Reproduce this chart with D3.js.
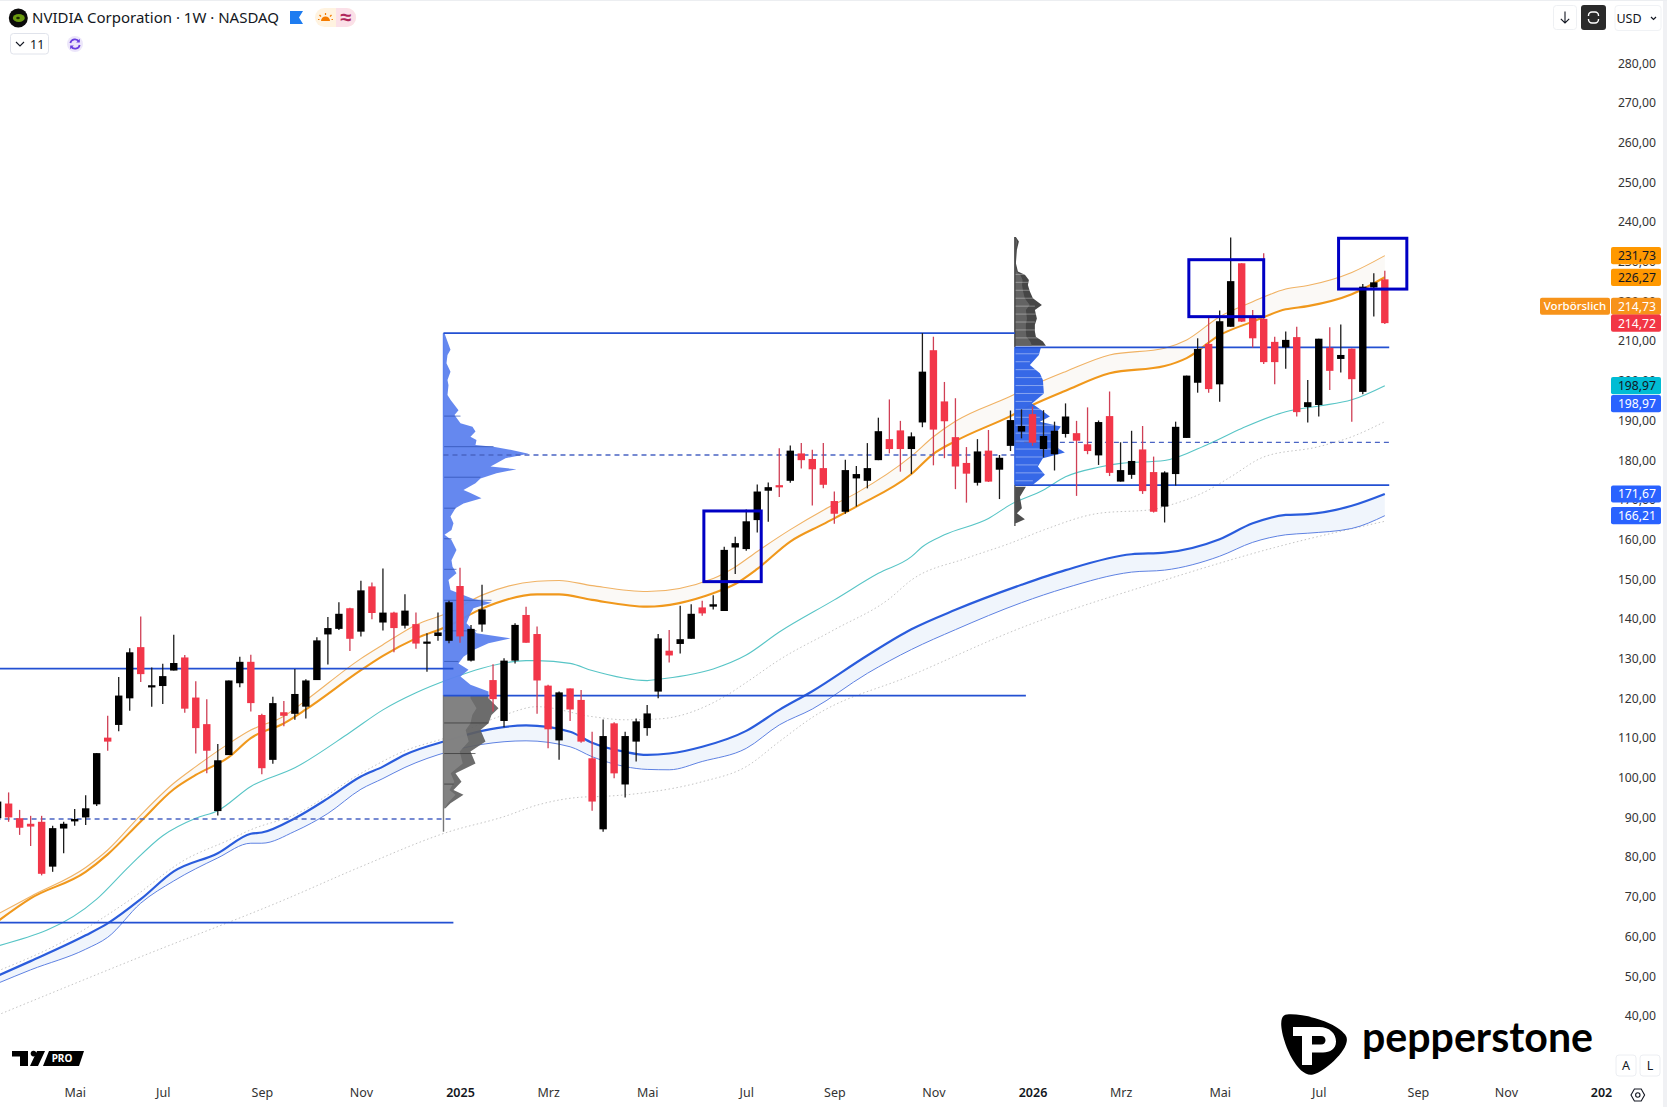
<!DOCTYPE html>
<html>
<head>
<meta charset="utf-8">
<title>NVIDIA Corporation 1W</title>
<script src="https://cdn.jsdelivr.net/npm/d3@7"></script>
<style>
    body { margin: 0; background: #fff; }
    svg { display: block; }
    text { font-family: "Noto Sans", sans-serif; }
</style>
</head>
<body>
<div id="graph"></div>
<script>
"use strict";

// weekly candles, first entry is the week of 2024-03-18 (week number -1)
const opens = [90,
    93.7, 90, 88.6, 89.1, 77.8, 87.4, 89.2, 90.2, 93.5, 110.3,
    113.5, 120.2, 133.1, 123, 123.3, 127.2, 130.5, 120.4, 113.7, 91.8,
    105.9, 124, 129.4, 116, 104.7, 116.7, 116.3, 118.1, 124.8, 136.3,
    137.7, 142.9, 137, 148.4, 139.3, 141.8, 138.5, 138.9, 134, 135.9,
    134.7, 148.5, 129.7, 138.8, 124.8, 114.5, 129.7, 141.2, 136.4, 123.4,
    109.6, 122.7, 119.8, 105.1, 87.2, 113.9, 98.5, 109.3, 112.7, 121.9,
    132.2, 133.9, 135.2, 143.1, 143.3, 142.2, 158.2, 157.8, 165.1, 172.5,
    173.9, 175, 181.9, 180.5, 178.2, 169.9, 167.2, 175.6, 175, 180.2,
    185.5, 187.7, 183, 189.7, 207.9, 195, 186, 179.5, 174.5, 182.6,
    177.8, 183.8, 187.4, 191.8, 183, 181.7, 186.8, 187, 184.2, 181.4,
    191.3, 174.8, 176.5, 182.9, 177.2, 168.5, 176.7, 185.8, 199.7, 209.5,
    199.3, 213.8, 229.8, 216.4, 215.8, 210, 208.6, 211.2, 193.6, 194.1,
    208.5, 205.7, 208.3, 197.4, 223.7, 225.75];
const closes = [94.2,
    90.2, 87.6, 87.9, 76, 87.5, 88.6, 89.8, 92.5, 106.4, 109.3,
    120.9, 131.8, 126.3, 123.5, 125.8, 129.1, 117.6, 112.7, 107, 104.6,
    124.7, 129.4, 119, 102.6, 119, 115.8, 121.3, 124.7, 134.8, 137.9,
    141.5, 135.2, 147.4, 141.7, 141.8, 137.9, 142.3, 134, 134.5, 136.8,
    144.4, 135.8, 137.7, 142.6, 120, 129.7, 138.7, 134.2, 124.7, 112.4,
    121.7, 117.4, 109.3, 94.2, 110.7, 101.3, 110.7, 114.4, 116.4, 135.3,
    131, 135.1, 141.5, 141.6, 143.9, 157.6, 159.3, 164.8, 172.3, 173.4,
    173.4, 182.6, 180.2, 177.9, 174, 166.7, 177.7, 176.7, 178.2, 187.5,
    183, 183, 186.2, 202.5, 187.9, 190, 178.6, 176.8, 182.4, 174.8,
    180.8, 190.3, 188.8, 184.6, 186.3, 187.6, 191.2, 185.1, 182.5, 189.8,
    177, 177.7, 180, 172.4, 167.2, 177.1, 188.6, 201.5, 208.2, 198.1,
    215.2, 225.3, 215.1, 210.9, 204.9, 204.9, 210.5, 192.3, 194.8, 210.8,
    202.7, 206.7, 200.6, 223.9, 225, 214.72];
const highs = [95.5,
    96.5, 92.1, 90.6, 90.6, 88.1, 89.1, 92.3, 95.8, 106.4, 115.8,
    125.6, 132.8, 140.8, 128, 128.9, 136.2, 131.1, 124.5, 120, 108.7,
    124.7, 130.7, 131.2, 116.3, 120.6, 119.5, 127.6, 125, 135.6, 140.7,
    144.4, 143, 149.8, 149.4, 152.9, 142, 146.4, 141.8, 136.6, 141.8,
    144.8, 153.1, 138.7, 148.8, 128.8, 130.3, 139.1, 143.3, 138.3, 123.6,
    121.9, 122.7, 122.3, 111.8, 114.9, 114.2, 111.8, 115.1, 118.5, 136.4,
    137.4, 143.5, 143.9, 144.8, 146.2, 158.4, 160.9, 167.8, 174.1, 174.6,
    183.2, 183.9, 184.5, 182.8, 184.5, 172.3, 180.3, 178.7, 184.5, 190.9,
    195.5, 190.1, 187.2, 212.2, 211.3, 199.9, 195.8, 183.5, 185.5, 187.8,
    181.5, 192.7, 193, 193.7, 192.8, 189.9, 194.5, 190.1, 193.5, 190.2,
    197.5, 184.7, 187.6, 188.8, 181.1, 177.4, 189.9, 201.5, 210.9, 216.4,
    217.9, 236.3, 229.8, 218, 232.3, 211.3, 212.6, 213.8, 200.4, 210.8,
    213.7, 214.4, 208.3, 224.6, 227.3, 227.9];
const lows = [89.5,
    89.1, 85.8, 83, 75.6, 76.5, 81.2, 88.1, 88.3, 93.1, 107,
    111.9, 117.1, 124.3, 118.1, 118.8, 127.2, 116.6, 106.3, 101.3, 90.7,
    105.9, 123, 116.9, 101.1, 103.7, 113.2, 114.8, 115.1, 124.8, 128.7,
    137.4, 132.1, 135.8, 140.1, 137.3, 131.8, 137.8, 132.7, 126.9, 134.7,
    134.1, 134.2, 129.5, 137, 116.9, 112.9, 129, 134.2, 116.3, 107.6,
    104.7, 114.5, 109, 91.9, 86.6, 100.1, 95.2, 104.3, 110.8, 120.2,
    129.2, 131.5, 135.2, 141, 142.6, 142.2, 151.5, 157.4, 162, 164.7,
    170.9, 174.5, 178.1, 168.8, 173.1, 164.2, 166.7, 168.5, 173.1, 180.2,
    181.9, 177.3, 176.7, 188.5, 178.9, 180.7, 172.9, 169.5, 173.8, 174.7,
    170.4, 182.5, 185.7, 183.8, 180.9, 177.6, 185.9, 171.2, 181.7, 179,
    176.2, 174.8, 175.5, 171.7, 167, 164.5, 173.8, 185.8, 197.2, 197.2,
    194.9, 213.8, 215, 208.6, 204.4, 199.3, 203.2, 191.2, 189.7, 191.2,
    197.9, 202.3, 189.9, 196.8, 216.4, 214.5];

const orangeWeeks = [-1, 2, 7, 9, 12, 15, 17, 20, 22, 25, 27, 32, 34, 37, 40, 43, 48, 50, 53, 58, 64, 66, 68, 71, 74, 77, 82, 84, 86, 91, 93, 96, 100, 105, 107, 110, 113, 116, 118, 122, 125];
const orangeSlow = [64, 69.8, 76.5, 80.9, 89.2, 97.3, 100.9, 105.4, 110.2, 113.9, 117.4, 127.3, 130.9, 135.3, 138.5, 142.8, 146.4, 146.4, 145, 143.3, 146.7, 149, 152.8, 159.7, 164.1, 168.5, 176.7, 181.8, 185, 191.3, 194.1, 197.7, 202.1, 203.9, 205.9, 211.7, 215.1, 218.2, 219, 222, 226.27];
const orangeFast = [65.8, 70.3, 77.6, 82, 90.8, 98.8, 103, 108.8, 112.2, 115.7, 119.7, 130.2, 133.7, 138.7, 141.8, 146.2, 149.7, 149.9, 148.6, 147.1, 150.4, 153.3, 157.2, 162.7, 167.6, 171.9, 181.2, 186.1, 190, 196.3, 199, 202.5, 206.7, 208.4, 210.5, 216.35, 220.1, 223.3, 224.2, 227.5, 231.73];

const tealWeeks = [-1, 8, 11, 14, 17, 19, 22, 26, 31, 34, 37, 40, 43, 47, 48, 51, 53, 58, 59, 64, 67, 70, 75, 79, 82, 83, 85, 89, 91, 94, 96, 99, 101, 105, 109, 112, 116, 119, 122, 125];
const tealLine = [57.8, 69.6, 78, 85.6, 90, 91.9, 98, 102.7, 111.6, 117.3, 121.6, 125, 127.8, 129.7, 129.7, 129, 127.2, 124.67, 125, 127.6, 131.1, 136.9, 145, 151.7, 155.9, 158.4, 161.4, 165.5, 169, 172.7, 176, 178.4, 179.4, 180.1, 184.3, 188.2, 192.4, 193.85, 195.4, 198.97];

const blueWeeks = [-1, 2, 7, 9, 12, 15, 19, 22, 23, 26, 29, 32, 34, 36, 40, 43, 47, 51, 53, 56, 58, 60, 63, 67, 70, 73, 78, 82, 86, 92, 96, 102, 105, 110, 113, 116, 118, 122, 125];
const blueFast = [50.3, 54, 60.5, 63.5, 69.6, 76.6, 81.2, 86.1, 86.4, 90, 95, 100.5, 103, 106, 109.7, 112, 113.4, 111.8, 109, 106.7, 105.95, 106.3, 108, 112, 117.3, 122, 131, 137.6, 142.5, 148.8, 152.5, 156.5, 156.9, 160.3, 164.3, 166.4, 166.6, 168.7, 171.67];
const blueSlow = [48.4, 51.8, 57, 60, 68.6, 74.2, 80, 83.7, 83.7, 86.7, 91.2, 97.3, 100, 102.8, 106.8, 108.6, 109.5, 108, 105.5, 103, 102.3, 102.2, 104.3, 107.6, 113.5, 117.5, 126.5, 132.5, 137.5, 144.3, 148, 152, 152.5, 156, 159.5, 161.4, 161.8, 163, 166.21];

const dotUpperWeeks = [-1, 5, 11, 16, 20, 22, 26, 32, 36, 40, 45, 48, 53, 56, 59, 65, 67, 70, 75, 80, 82, 87, 91, 94, 99, 104, 105, 109, 111, 114, 119, 122, 125];
const dotUpper = [51.5, 59, 69.4, 79.5, 84.5, 87.1, 90.9, 101.3, 107, 110.5, 116, 118.1, 115.6, 114.8, 115, 120.6, 124.2, 129.9, 137.5, 145.3, 150, 155.5, 159.3, 162.6, 166.8, 167.8, 168.5, 172.7, 176, 181, 183.6, 186.1, 189.9];
const dotLowerWeeks = [-1, 12, 25, 32, 40, 45, 48, 52, 54, 58, 63, 67, 70, 73, 82, 92, 105, 115, 125];
const dotLower = [40.4, 55.1, 69.4, 77.8, 86.6, 90.4, 93.3, 95.3, 95.5, 96.5, 99.2, 103, 109.3, 115.4, 126, 138, 150, 158.2, 164.8];

// volume profiles: price levels and volumes
const vp2025Week = 39.5;
const vp2025BluePrices = [212.2, 208, 206.7, 204.6, 202.5, 200.4, 199.1, 196.6, 195.4, 192.8, 191.6, 189.5, 188.6, 187.4, 186.1, 185.3, 184, 183.6, 182.8, 181.8, 180.7, 179.4, 178.6, 177.9, 176.9, 175.6, 174.4, 172.7, 171.9, 170.6, 169.3, 168.1, 166, 164.3, 162.6, 161.4, 160.1, 157.6, 155, 153.4, 151.7, 150, 147.5, 145.2, 144.3, 142.9, 141.6, 139.1, 136.6, 135.3, 134.1, 132.4, 130.7, 129, 127.4, 125.7, 123.6, 121.9, 121.05];
const vp2025BlueVols = [1, 7, 4, 3, 7, 4, 5, 4, 7, 15, 11, 17, 29, 32, 27, 33, 32, 50, 67, 85, 62, 53, 47, 73, 53, 37, 32, 20, 27, 38, 20, 12, 7, 10, 8, 1, 8, 13, 8, 9, 13, 5, 7, 30, 48, 30, 27, 23, 33, 67, 45, 30, 20, 15, 25, 17, 27, 45, 45];
const vp2025GrayPrices = [121.05, 120.2, 117.7, 116, 113.9, 112.2, 109.3, 106.8, 103.8, 101.3, 99.2, 97.1, 95.9, 93.8, 92.5];
const vp2025GrayVols = [45, 45, 55, 48, 45, 37, 42, 27, 32, 12, 18, 10, 20, 7, 2];
const vp2026Week = 91.4;
const vp2026TopPrices = [236.4, 235.3, 233.2, 229.8, 227.7, 226.9, 225.6, 224.3, 222.7, 221, 219.3, 218, 215.9, 214.3, 212.6, 211.3, 210.1, 209];
const vp2026TopVols = [1, 4, 2, 1, 3, 10, 14, 13, 15, 18, 27, 20, 22, 20, 20, 21, 28, 31];
const vp2026BluePrices = [208.6, 206.7, 204.2, 202.1, 200.4, 197, 194.5, 192.9, 191.2, 189.9, 188.7, 187, 185.3, 183.6, 182.1, 180.7, 178.6, 176.5, 175.2, 174];
const vp2026BlueVols = [26, 24, 15, 25, 28, 29, 17, 26, 35, 25, 46, 41, 43, 41, 50, 28, 23, 30, 24, 18];
const vp2026BottomPrices = [173.5, 171, 168.1, 166.8, 165.3, 164.3];
const vp2026BottomVols = [11, 5, 7, 2, 10, 1];

// horizontal levels: price, first week, last week
const solidLevels = [[127.7, -2, 40.4], [63.7, -2, 40.4], [212.2, 39.5, 91.4], [120.9, 39.5, 92.4], [208.6, 91.4, 125.4], [173.9, 91.4, 125.4]];
const dashedLevels = [[89.8, -2, 40.4], [181.5, 39.5, 91.4], [184.7, 91.4, 125.4]];

// marked boxes: first week, last week, top price, bottom price
const boxes = [[63.15, 68.36, 167.4, 149.6], [107.2, 114, 230.7, 216.35], [120.8, 127, 236.1, 223.3]];

const priceTicks = d3.range(40, 281, 10);
const timeDates = ["2024-05-06", "2024-07-01", "2024-09-02", "2024-11-04", "2025-01-06", "2025-03-03", "2025-05-05", "2025-07-07", "2025-09-01", "2025-11-03", "2026-01-05", "2026-03-02", "2026-05-04", "2026-07-06", "2026-09-07", "2026-11-02", "2027-01-04"];
const timeLabels = ["Mai", "Jul", "Sep", "Nov", "2025", "Mrz", "Mai", "Jul", "Sep", "Nov", "2026", "Mrz", "Mai", "Jul", "Sep", "Nov", "202"];

// price tags on the right side; tagSpots is where a tag sits, stacked tags are pushed off their value
const tagSpots = [231.73, 226.27, 218.97, 214.72, 198.97, 194.43, 171.67, 166.21];
const tagTexts = ["231,73", "226,27", "214,73", "214,72", "198,97", "198,97", "171,67", "166,21"];
const tagFills = ["#ff9800", "#ff9800", "#f7931a", "#f23645", "#00bcd4", "#2962ff", "#2962ff", "#2962ff"];
const tagInk = ["#131722", "#131722", "#fff", "#fff", "#131722", "#fff", "#fff", "#fff"];

const W = 1667, H = 1107;
const RED = "#f23649", BLACK = "#000";

const svg = d3.select("#graph").append("svg").attr("width", W).attr("height", H);

const firstWeek = Date.UTC(2024, 2, 25);
const weekDate = w => new Date(firstWeek + w * 7 * 864e5);
const x = d3.scaleUtc().domain([new Date("2025-01-06"), new Date("2026-01-05")]).range([460, 1032.5]);
const y = d3.scaleLinear().domain([40, 280]).range([1016.7, 64]);
const xw = w => x(weekDate(w));
const vol = d3.scaleLinear().domain([0, 100]).range([0, 100]);

const candles = opens.map((o, i) => ({week: i - 1, o: o, h: highs[i], l: lows[i], c: closes[i]}));

// bands between the moving averages
function band(weeks, upper, lower, fill) {
    svg.append("path")
        .datum(weeks.map((w, i) => ({w: w, a: upper[i], b: lower[i]})))
        .attr("fill", fill)
        .attr("d", d3.area().curve(d3.curveMonotoneX).x(d => xw(d.w)).y0(d => y(d.b)).y1(d => y(d.a)));
}
band(orangeWeeks, orangeFast, orangeSlow, "#fbf9f6");
band(blueWeeks, blueFast, blueSlow, "#f0f5fc");

function maLine(weeks, values, color, width, dash) {
    svg.append("path")
        .datum(weeks.map((w, i) => ({w: w, v: values[i]})))
        .attr("fill", "none")
        .attr("stroke", color)
        .attr("stroke-width", width)
        .attr("stroke-dasharray", dash || null)
        .attr("d", d3.line().curve(d3.curveMonotoneX).x(d => xw(d.w)).y(d => y(d.v)));
}
maLine(dotUpperWeeks, dotUpper, "#c4c4c4", 1, "1.5 2.5");
maLine(dotLowerWeeks, dotLower, "#c4c4c4", 1, "1.5 2.5");
maLine(tealWeeks, tealLine, "#58c5c6", 1.1);
maLine(blueWeeks, blueSlow, "#5f82e2", 1);
maLine(blueWeeks, blueFast, "#2a5cdc", 2.2);
maLine(orangeWeeks, orangeFast, "#f0b264", 1.1);
maLine(orangeWeeks, orangeSlow, "#f0981c", 2.1);

// volume profiles
function profile(week, prices, vols, fill, opacity) {
    svg.append("path")
        .datum(prices.map((p, i) => ({p: p, v: vols[i]})))
        .attr("fill", fill)
        .attr("fill-opacity", opacity)
        .attr("d", d3.area().x0(xw(week)).x1(d => xw(week) + vol(d.v)).y(d => y(d.p)));
}
function profileInner(week, prices, vols, fill, share) {
    profile(week, prices, vols.map(v => v * share), fill, 0.9);
}
function stripes(week, prices, vols, values, color, alpha) {
    const widthAt = p => vols[d3.bisectLeft(prices.map(q => -q), -p)] || 0;
    svg.append("g").selectAll("line").data(values).join("line")
        .attr("x1", xw(week)).attr("x2", d => xw(week) + vol(widthAt(d)))
        .attr("y1", d => y(d)).attr("y2", d => y(d))
        .attr("stroke", color).attr("stroke-opacity", alpha).attr("stroke-width", 1);
}

profile(vp2025Week, vp2025BluePrices, vp2025BlueVols, "#5d82ee", 0.95);
profile(vp2025Week, vp2025GrayPrices, vp2025GrayVols, "#606060", 0.92);
profileInner(vp2025Week, vp2025GrayPrices, vp2025GrayVols, "#858585", 0.6);
stripes(vp2025Week, vp2025BluePrices, vp2025BlueVols, [191.3, 183.6, 175.9, 168.1, 160.4, 152.7, 144.9, 137.2, 129.5], "#2c4fb0", 0.7);
stripes(vp2025Week, vp2025GrayPrices, vp2025GrayVols, [114, 106.3, 98.6], "#333", 0.7);

profile(vp2026Week, vp2026TopPrices, vp2026TopVols, "#3c3c3c", 0.95);
profileInner(vp2026Week, vp2026TopPrices, vp2026TopVols, "#666", 0.55);
profile(vp2026Week, vp2026BluePrices, vp2026BlueVols, "#2f63e6", 0.97);
profile(vp2026Week, vp2026BottomPrices, vp2026BottomVols, "#444", 0.95);
stripes(vp2026Week, vp2026TopPrices, vp2026TopVols, d3.range(211, 228, 2), "#fff", 0.35);
stripes(vp2026Week, vp2026BluePrices, vp2026BlueVols, d3.range(175, 208, 2), "#fff", 0.4);

svg.append("g").selectAll("line").data([[vp2025Week, 212.2, 121, "#5d82ee"], [vp2025Week, 121, 86.6, "#777"], [vp2026Week, 236.4, 208.6, "#444"], [vp2026Week, 208.6, 174, "#2f63e6"], [vp2026Week, 174, 163.6, "#555"]]).join("line")
    .attr("x1", d => xw(d[0])).attr("x2", d => xw(d[0]))
    .attr("y1", d => y(d[1])).attr("y2", d => y(d[2]))
    .attr("stroke", d => d[3]).attr("stroke-width", 1.4);

// horizontal levels
svg.append("g").selectAll("line").data(solidLevels).join("line")
    .attr("x1", d => xw(d[1])).attr("x2", d => xw(d[2]))
    .attr("y1", d => y(d[0])).attr("y2", d => y(d[0]))
    .attr("stroke", "#2350d2").attr("stroke-width", 1.8);
svg.append("g").selectAll("line").data(dashedLevels).join("line")
    .attr("x1", d => xw(d[1])).attr("x2", d => xw(d[2]))
    .attr("y1", d => y(d[0])).attr("y2", d => y(d[0]))
    .attr("stroke", "#4a64c4").attr("stroke-width", 1.3).attr("stroke-dasharray", "5 4");

// candles
const candle = svg.append("g").selectAll("g").data(candles).join("g")
    .attr("transform", d => "translate(" + xw(d.week) + ",0)");
candle.append("line")
    .attr("y1", d => y(d.h)).attr("y2", d => y(d.l))
    .attr("stroke", d => d.c < d.o ? "#cf3f55" : "#1c1c1c").attr("stroke-width", 1.3);
candle.append("rect")
    .attr("x", -3.7).attr("width", 7.4)
    .attr("y", d => y(Math.max(d.o, d.c)))
    .attr("height", d => Math.max(2.2, Math.abs(y(d.o) - y(d.c))))
    .attr("fill", d => d.c < d.o ? RED : BLACK);

// marked boxes
svg.append("g").selectAll("rect").data(boxes).join("rect")
    .attr("x", d => xw(d[0])).attr("width", d => xw(d[1]) - xw(d[0]))
    .attr("y", d => y(d[2])).attr("height", d => y(d[3]) - y(d[2]))
    .attr("fill", "none").attr("stroke", "#0000c4").attr("stroke-width", 3);

// price axis
const priceAxis = svg.append("g").attr("transform", "translate(1656,0)")
    .call(d3.axisLeft(y).tickValues(priceTicks).tickSize(0).tickPadding(0)
        .tickFormat(d => d3.format(".2f")(d).replace(".", ",")));
priceAxis.select(".domain").remove();
priceAxis.selectAll("text").attr("font-size", 12.2).attr("fill", "#333").attr("dy", "0.25em")
    .style("font-family", '"Noto Sans", sans-serif');

// time axis
const timeAxis = svg.append("g").attr("transform", "translate(0,1088)");
timeAxis.call(d3.axisBottom(x).tickValues(timeDates.map(d => new Date(d))).tickSize(0).tickPadding(0)
    .tickFormat((d, i) => timeLabels[i]));
timeAxis.select(".domain").remove();
timeAxis.selectAll("text").attr("font-size", 12.5)
    .attr("fill", (d, i) => /^\d/.test(timeLabels[i]) ? "#131722" : "#333")
    .attr("font-weight", (d, i) => /^\d/.test(timeLabels[i]) ? 600 : 400)
    .attr("dx", (d, i) => i === timeLabels.length - 1 ? -4 : 0)
    .style("font-family", '"Noto Sans", sans-serif');

// price tags
const tag = svg.append("g").selectAll("g").data(tagSpots).join("g")
    .attr("transform", d => "translate(1611," + y(d) + ")");
tag.append("rect").attr("x", 0).attr("y", -8.6).attr("width", 50).attr("height", 17.2).attr("rx", 2)
    .attr("fill", (d, i) => tagFills[i]);
tag.append("text").attr("x", 45).attr("y", 4.4).attr("text-anchor", "end").attr("font-size", 12.2)
    .attr("fill", (d, i) => tagInk[i]).text((d, i) => tagTexts[i]);

svg.append("rect").attr("x", 1540).attr("y", y(218.97) - 8.6).attr("width", 70).attr("height", 17.2).attr("rx", 2).attr("fill", "#f7931a");
svg.append("text").attr("x", 1575).attr("y", y(218.97) + 4).attr("text-anchor", "middle").attr("font-size", 11.5).attr("font-weight", 500).attr("fill", "#fff").text("Vorbörslich");

// header
const head = svg.append("g");
head.append("circle").attr("cx", 18.3).attr("cy", 18).attr("r", 9.5).attr("fill", "#0b0b0b");
head.append("ellipse").attr("cx", 18.8).attr("cy", 18).attr("rx", 6).attr("ry", 4).attr("fill", "#6a9a10");
head.append("ellipse").attr("cx", 18).attr("cy", 18).attr("rx", 1.8).attr("ry", 1.2).attr("fill", "#1c2a05");
head.append("text").attr("x", 32).attr("y", 23.2).attr("font-size", 15).attr("fill", "#131722")
    .text("NVIDIA Corporation · 1W · NASDAQ");
head.append("path").attr("d", "M290 11H303L299 17.5L303 24H290Z").attr("fill", "#1e7cf0");
head.append("rect").attr("x", 315).attr("y", 8).attr("width", 41).attr("height", 19).attr("rx", 9.5).attr("fill", "#fff3e0");
head.append("path").attr("d", "M336 8H346.5A9.5 9.5 0 0 1 346.5 27H336Z").attr("fill", "#fbe0e8");
head.append("path").attr("d", "M321 21H330A4.5 4.5 0 0 0 321 21Z").attr("fill", "#f57c00");
head.selectAll(".ray").data([[325.5, 13, 325.5, 15], [319.5, 15, 321, 16.5], [331.5, 15, 330, 16.5], [318, 19.5, 319.5, 19.5], [331.5, 19.5, 333, 19.5]]).join("line")
    .attr("class", "ray").attr("x1", d => d[0]).attr("y1", d => d[1]).attr("x2", d => d[2]).attr("y2", d => d[3])
    .attr("stroke", "#f57c00").attr("stroke-width", 1.2);
head.append("text").attr("x", 346).attr("y", 24).attr("text-anchor", "middle").attr("font-size", 20).attr("font-weight", 600).attr("fill", "#b0265c").text("≈");

head.append("rect").attr("x", 10.5).attr("y", 33.5).attr("width", 38).attr("height", 20.5).attr("rx", 3).attr("fill", "#fff").attr("stroke", "#e0e3eb");
head.append("path").attr("d", "M16 42L20 46L24 42").attr("fill", "none").attr("stroke", "#131722").attr("stroke-width", 1.1);
head.append("text").attr("x", 30).attr("y", 48.5).attr("font-size", 12.5).attr("fill", "#131722").text("11");
head.append("circle").attr("cx", 75).attr("cy", 44).attr("r", 8).attr("fill", "#ece6fa");
head.append("path").attr("d", "M70.3 43A4.8 4.8 0 0 1 79 41.5M79.7 45A4.8 4.8 0 0 1 71 46.5").attr("fill", "none").attr("stroke", "#6a3fe0").attr("stroke-width", 1.7);
head.append("path").attr("d", "M79.8 38.8V42.4H76.2ZM70.2 49.2V45.6H73.8Z").attr("fill", "#6a3fe0");

// top right buttons
const tools = svg.append("g");
tools.append("rect").attr("x", 1553.5).attr("y", 5.5).attr("width", 23).attr("height", 24).attr("rx", 3).attr("fill", "#fff").attr("stroke", "#eef0f3");
tools.append("path").attr("d", "M1565 11.5V23M1560.8 18.8L1565 23L1569.2 18.8").attr("fill", "none").attr("stroke", "#131722").attr("stroke-width", 1.1);
tools.append("rect").attr("x", 1581).attr("y", 5).attr("width", 25).attr("height", 25).attr("rx", 3).attr("fill", "#2a2a2a");
tools.append("path").attr("d", "M1588.5 16V15.5A3.5 3.5 0 0 1 1592 12H1595A3.5 3.5 0 0 1 1598.5 15.5V16M1588.5 19V19.5A3.5 3.5 0 0 0 1592 23H1595A3.5 3.5 0 0 0 1598.5 19.5V19").attr("fill", "none").attr("stroke", "#fff").attr("stroke-width", 1.4);
tools.append("rect").attr("x", 1615).attr("y", 5.5).attr("width", 46).attr("height", 25).attr("rx", 3).attr("fill", "#fff").attr("stroke", "#f0f2f5");
tools.append("text").attr("x", 1629).attr("y", 22.5).attr("text-anchor", "middle").attr("font-size", 12.5).attr("fill", "#131722").text("USD");
tools.append("path").attr("d", "M1651 17L1653.5 19.5L1656 17").attr("fill", "none").attr("stroke", "#131722").attr("stroke-width", 1.2);

// bottom right buttons
tools.selectAll(".scale-btn").data([[1616, "A"], [1640, "L"]]).join("rect")
    .attr("class", "scale-btn").attr("x", d => d[0]).attr("y", 1055).attr("width", 20).attr("height", 21).attr("rx", 3)
    .attr("fill", "#fff").attr("stroke", "#eceef2");
tools.selectAll(".scale-txt").data([[1626, "A"], [1650, "L"]]).join("text")
    .attr("class", "scale-txt").attr("x", d => d[0]).attr("y", 1069.5).attr("text-anchor", "middle")
    .attr("font-size", 12.5).attr("fill", "#131722").text(d => d[1]);
tools.append("path").attr("d", "M1631 1095L1634.4 1089H1641.2L1644.6 1095L1641.2 1101H1634.4Z").attr("fill", "none").attr("stroke", "#131722").attr("stroke-width", 1.1);
tools.append("circle").attr("cx", 1637.8).attr("cy", 1095).attr("r", 2.2).attr("fill", "none").attr("stroke", "#131722").attr("stroke-width", 1.1);

// TradingView mark
const tv = svg.append("g");
tv.append("path").attr("d", "M12 1051H28V1066H20V1056.5H12Z").attr("fill", "#000");
tv.append("circle").attr("cx", 33.5).attr("cy", 1053.6).attr("r", 2.8).attr("fill", "#000");
tv.append("path").attr("d", "M37 1051H45L38 1066H30Z").attr("fill", "#000");
tv.append("path").attr("d", "M49 1051H84L79 1066H43Z").attr("fill", "#000");
tv.append("text").attr("x", 62).attr("y", 1062).attr("text-anchor", "middle").attr("font-size", 10).attr("font-weight", 700).attr("fill", "#fff").text("PRO");

// Pepperstone mark
const pep = svg.append("g");
pep.append("path").attr("d", "M1287 1014.5C1305 1013 1338 1023 1346 1036C1352 1047 1326 1071 1313 1074.5C1299 1078 1284 1048 1281.5 1028C1280.5 1020 1282 1015 1287 1014.5Z").attr("fill", "#000");
pep.append("path").attr("d", "M1293 1027H1319C1330 1027 1336 1034 1336 1041.5C1336 1049 1330 1052.5 1323 1052.5H1312V1065H1302V1036H1293ZM1312 1036V1044.5H1321C1327 1044.5 1327 1036 1321 1036Z").attr("fill", "#fff").attr("fill-rule", "evenodd");
svg.append("text").attr("x", 1362).attr("y", 1052).attr("font-size", 42).attr("font-weight", 700)
    .attr("textLength", 231).attr("lengthAdjust", "spacingAndGlyphs")
    .style("font-family", 'Lato, sans-serif').attr("fill", "#000").text("pepperstone");

// page edges
svg.append("rect").attr("x", 1663).attr("y", 0).attr("width", 4).attr("height", H).attr("fill", "#f0f1f4");
svg.append("rect").attr("x", 0).attr("y", 0).attr("width", W).attr("height", 1).attr("fill", "#eceef1");
</script>
</body>
</html>
